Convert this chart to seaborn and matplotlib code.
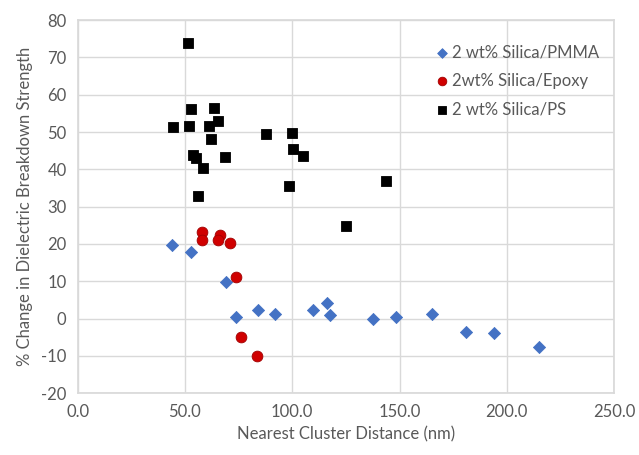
import matplotlib
matplotlib.use("Agg")
import matplotlib.pyplot as plt
import numpy as np
import pandas as pd
import seaborn as sns

# PMMA series (blue diamonds)
pmma_x = [44.1, 52.8, 69.1, 73.6, 83.9, 92.1, 109.8, 116.2, 117.6, 137.8, 148.3, 165.0, 180.8, 193.8, 215.1]
pmma_y = [19.7, 17.8, 9.7, 0.5, 2.2, 1.3, 2.2, 4.3, 0.9, -0.1, 0.5, 1.3, -3.6, -3.9, -7.5]

# Epoxy series (red circles)
epoxy_x = [57.8, 57.8, 66.3, 65.2, 71.0, 73.6, 76.0, 83.6]
epoxy_y = [23.1, 21.1, 22.3, 21.1, 20.2, 11.2, -5.0, -10.0]

# PS series (black squares)
ps_x = [51.3, 52.6, 63.4, 44.6, 51.7, 61.3, 65.4, 62.0, 87.6, 99.7,
        53.9, 55.0, 68.5, 100.2, 104.8, 58.2, 98.3, 143.7, 56.2, 125.0]
ps_y = [73.8, 56.1, 56.5, 51.4, 51.6, 51.6, 52.9, 48.2, 49.4, 49.8,
        43.9, 43.1, 43.2, 45.5, 43.6, 40.4, 35.5, 36.8, 32.8, 24.9]

series_names = ["2 wt% Silica/PMMA", "2wt% Silica/Epoxy", "2 wt% Silica/PS"]

df = pd.concat([
    pd.DataFrame({"x": pmma_x, "y": pmma_y, "series": series_names[0]}),
    pd.DataFrame({"x": epoxy_x, "y": epoxy_y, "series": series_names[1]}),
    pd.DataFrame({"x": ps_x, "y": ps_y, "series": series_names[2]}),
])

sns.set_theme(style="white")
plt.rcParams["font.family"] = ["Lato", "DejaVu Sans"]
plt.rcParams["axes.unicode_minus"] = False
text_col = "#595959"
grid_col = "#d9d9d9"

fig = plt.figure(figsize=(6.39, 4.55), dpi=100)
ax = fig.add_axes([0.1216, 0.1356, 0.8394, 0.8204])

palette = {series_names[0]: "#4472C4", series_names[1]: "#D00000", series_names[2]: "#000000"}
markers = {series_names[0]: "D", series_names[1]: "o", series_names[2]: "s"}
sizes = {series_names[0]: 38, series_names[1]: 60, series_names[2]: 58}

for name in series_names:
    sub = df[df["series"] == name]
    sns.scatterplot(data=sub, x="x", y="y", ax=ax, color=palette[name],
                    marker=markers[name], s=sizes[name], linewidth=0.6,
                    edgecolor="#a00000" if name == series_names[1] else palette[name],
                    label=name, zorder=3)

ax.set_xlim(0, 250)
ax.set_ylim(-20, 80)
ax.set_xticks(np.arange(0, 251, 50))
ax.set_xticklabels([f"{v:.1f}" for v in np.arange(0, 251, 50)])
ax.set_yticks(np.arange(-20, 81, 10))
ax.grid(True, color=grid_col, linewidth=1)
ax.set_axisbelow(True)
for sp in ax.spines.values():
    sp.set_color(grid_col)
ax.tick_params(axis="both", length=0, labelsize=12, colors=text_col, pad=8)
ax.set_xlabel("Nearest Cluster Distance (nm)", fontsize=12, color=text_col, labelpad=4)
ax.set_ylabel("% Change in Dielectric Breakdown Strength", fontsize=12, color=text_col, labelpad=6)

leg = ax.legend(loc="upper right", bbox_to_anchor=(1.0, 0.975), frameon=False,
                fontsize=12, handletextpad=0.1, labelspacing=0.75, markerscale=0.8,
                handlelength=1.0)
for t in leg.get_texts():
    t.set_color(text_col)

fig.savefig("out.png", dpi=100)
